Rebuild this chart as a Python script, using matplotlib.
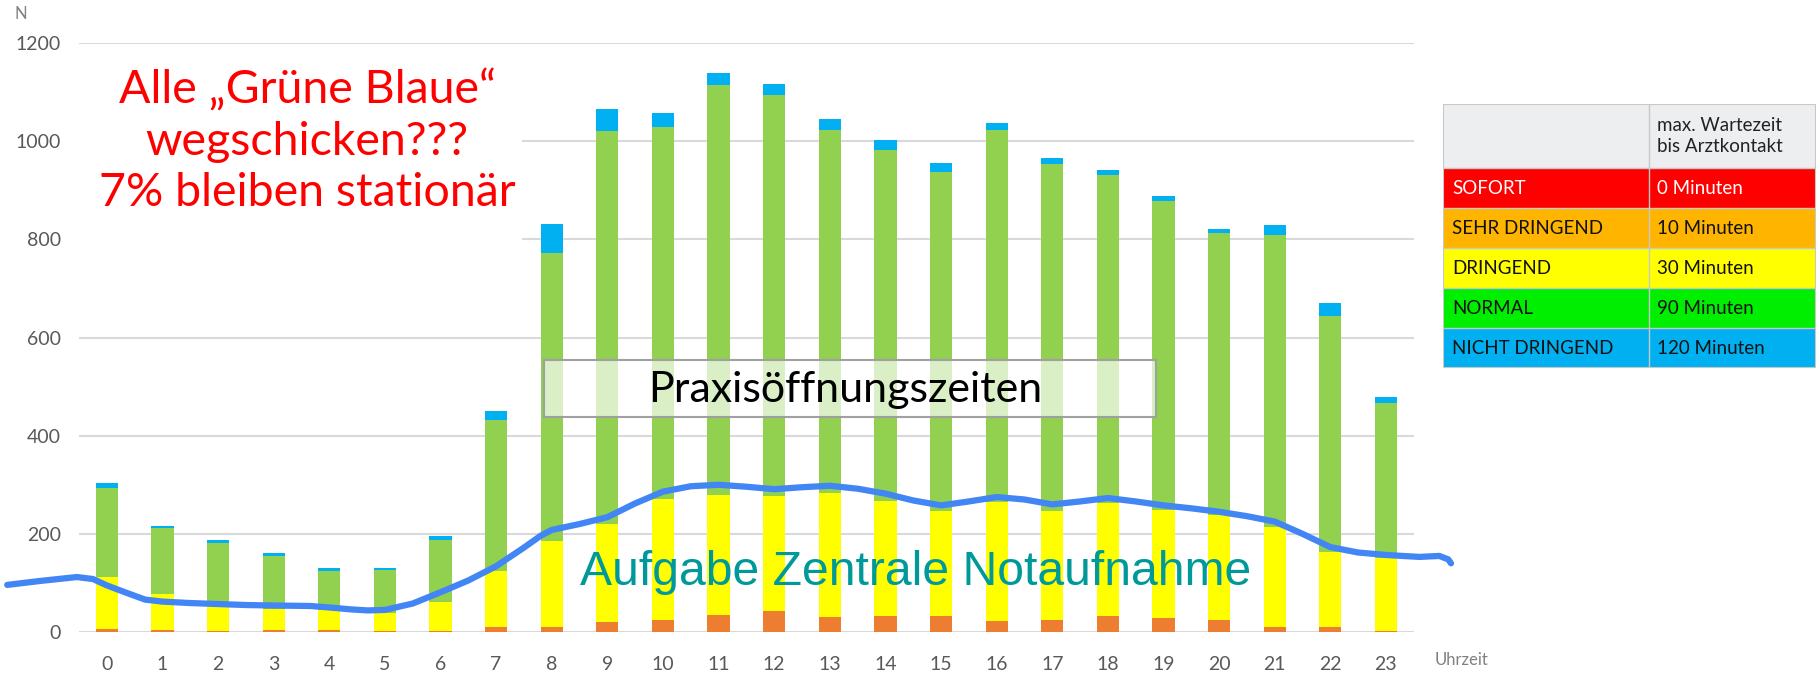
import matplotlib
matplotlib.use('Agg')
import numpy as np
import matplotlib.pyplot as plt
from matplotlib.patches import Rectangle

# Patienten pro Stunde nach Triage-Stufe
hours = list(range(24))
sehr_dringend = [7, 5, 3, 5, 5, 3, 2, 11, 10, 21, 24, 34, 43, 30, 32, 33, 22, 24, 33, 28, 24, 10, 11, 3]
dringend = [105, 73, 49, 42, 39, 36, 60, 113, 175, 199, 247, 246, 235, 254, 235, 214, 243, 223, 229, 221, 214, 204, 153, 148]
normal = [181, 134, 129, 108, 81, 88, 125, 308, 587, 800, 757, 834, 817, 738, 715, 691, 758, 707, 669, 629, 574, 594, 479, 315]
nicht_dringend = [11, 4, 7, 6, 6, 3, 8, 19, 59, 46, 29, 25, 21, 23, 21, 18, 15, 11, 10, 11, 9, 21, 27, 12]

# handgezeichnete Linie (Stunde, N)
curve_x = [-1.79, -1.2, -0.54, -0.25, 0, 0.35, 0.69, 1, 1.5, 2, 2.5, 3, 3.66, 4, 4.4, 4.69, 5, 5.5, 6,
           6.5, 7, 7.5, 7.8, 8, 8.5, 9, 9.5, 10, 10.5, 11, 11.5, 12, 12.5, 13, 13.5, 14, 14.5, 15, 15.5,
           16, 16.5, 17, 17.5, 18, 18.5, 19, 19.5, 20, 20.5, 21, 21.5, 22, 22.5, 23, 23.6, 23.96, 24.12, 24.17]
curve_y = [96, 104, 112, 108, 95, 80, 66, 62, 59, 57, 55, 54, 53, 50, 46, 44, 45, 58, 81,
           105, 134, 172, 196, 208, 220, 234, 262, 286, 297, 300, 296, 291, 295, 298, 292, 282, 268, 258, 266,
           275, 270, 260, 266, 273, 266, 258, 252, 245, 236, 225, 200, 173, 162, 157, 153, 155, 148, 140]

triage_levels = ['SOFORT', 'SEHR DRINGEND', 'DRINGEND', 'NORMAL', 'NICHT DRINGEND']
wait_times = ['0 Minuten', '10 Minuten', '30 Minuten', '90 Minuten', '120 Minuten']
level_colors = ['#FF0000', '#FFB400', '#FFFF00', '#00EE00', '#00B0F0']
level_text = ['white', '#111111', '#111111', '#111111', '#111111']

FONT = 'Lato'
GREY = '#595959'

fig = plt.figure(figsize=(18.16, 6.74), dpi=100)
ax = fig.add_axes([0.0435, 0.0623, 0.735, 0.8738])

series = [sehr_dringend, dringend, normal, nicht_dringend]
colors = ['#ED7D31', '#FFFF00', '#92D050', '#00B0F0']
bottom = np.zeros(len(hours))
for vals, col in zip(series, colors):
    ax.bar(hours, vals, width=0.4, bottom=bottom, color=col, zorder=2)
    bottom += np.array(vals)

ax.plot(curve_x, curve_y, color='#4285F4', lw=4.5, clip_on=False,
        solid_capstyle='round', solid_joinstyle='round', zorder=4)

ax.set_xlim(-0.5, 23.5)
ax.set_ylim(0, 1200)
ax.set_yticks(range(0, 1201, 200))
ax.set_xticks(hours)
ax.yaxis.grid(True, color='#D9D9D9', lw=1.5)
ax.set_axisbelow(True)
for s in ax.spines.values():
    s.set_visible(False)
ax.tick_params(length=0, labelsize=14, labelcolor=GREY)
ax.tick_params(axis='y', pad=13)
ax.tick_params(axis='x', pad=17)
for lab in ax.get_xticklabels() + ax.get_yticklabels():
    lab.set_family(FONT)

# weisser Hintergrund hinter dem roten Text
ax.add_patch(Rectangle((-0.5, 790), 7.96, 380, facecolor='white', edgecolor='none', zorder=1))
ax.text(3.6, 1000, 'Alle „Grüne Blaue“\nwegschicken???\n7% bleiben stationär',
        ha='center', va='center', color='#FF0000', fontsize=33.5, family=FONT,
        linespacing=1.28, zorder=5)

ax.add_patch(Rectangle((7.86, 438), 11.0, 116, facecolor=(1, 1, 1, 0.67),
                       edgecolor='#A0A0A0', lw=1.5, zorder=5))
ax.text(13.27, 494, 'Praxisöffnungszeiten', ha='center', va='center',
        fontsize=31, family=FONT, color='black', zorder=6)

ax.text(14.55, 122, 'Aufgabe Zentrale Notaufnahme', ha='center', va='center',
        fontsize=34.7, family='Liberation Sans', color='#009999', zorder=6)

fig.text(21 / 1816, 1 - 14 / 674, 'N', ha='center', va='center', fontsize=12,
         color='#808080', family=FONT)
fig.text(1435 / 1816, 1 - 660 / 674, 'Uhrzeit', ha='left', va='center', fontsize=12,
         color='#808080', family=FONT)

# Tabelle rechts
tab = fig.add_axes([1443 / 1816, 1 - 368 / 674, 373 / 1816, 264 / 674])
tab.set_xlim(0, 373)
tab.set_ylim(264, 0)
tab.axis('off')
split = 206
tab.add_patch(Rectangle((0, 0), 373, 64, facecolor='#EDEEF0', edgecolor='none'))
tab.text(214, 32, 'max. Wartezeit\nbis Arztkontakt', ha='left', va='center',
         fontsize=13.5, family=FONT, color='#222222', linespacing=1.3)
for i, (lvl, wt, col, tc) in enumerate(zip(triage_levels, wait_times, level_colors, level_text)):
    y0 = 64 + 40 * i
    tab.add_patch(Rectangle((0, y0), 373, 40, facecolor=col, edgecolor='none'))
    tab.text(9, y0 + 20, lvl, ha='left', va='center', fontsize=13.5, family=FONT, color=tc)
    tab.text(214, y0 + 20, wt, ha='left', va='center', fontsize=13.5, family=FONT, color=tc)
    tab.plot([0, 373], [y0, y0], color='#C8C8C8', lw=1)
tab.plot([split, split], [0, 264], color='#C8C8C8', lw=1)
tab.add_patch(Rectangle((0, 0), 372.5, 264, facecolor='none', edgecolor='#C8C8C8', lw=1.5))

fig.savefig('out.png', dpi=100)
